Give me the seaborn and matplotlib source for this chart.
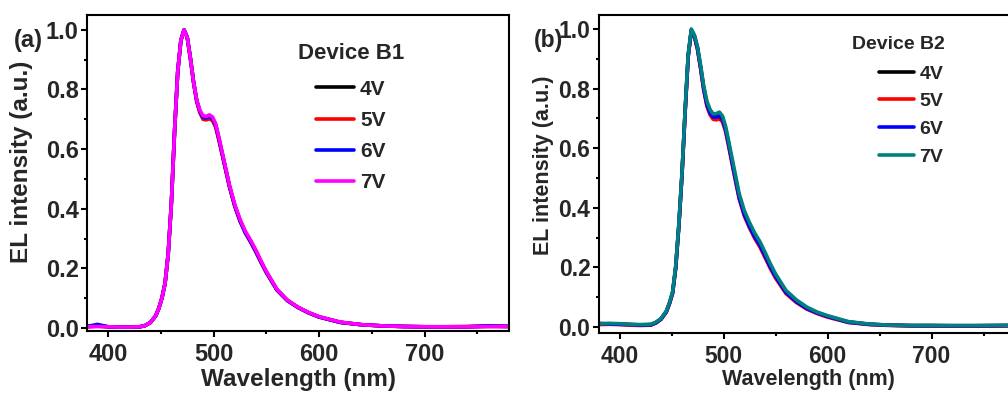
import numpy as np
import pandas as pd
import seaborn as sns
import matplotlib.pyplot as plt
from matplotlib.ticker import MultipleLocator

# wavelength grid (nm)
wavelength = [380, 390, 400, 410, 420, 430, 435, 440, 445, 448, 451, 454, 457, 460,
              463, 466, 469, 472, 475, 478, 481, 484, 487, 490, 493, 496, 499, 502,
              505, 510, 515, 520, 525, 530, 535, 540, 545, 550, 560, 570, 580, 590,
              600, 620, 640, 660, 680, 700, 720, 740, 760, 780]

voltages = ["4V", "5V", "6V", "7V"]

# Device B1 normalized EL spectra
b1_4v = [0.005, 0.008, 0.004, 0.003, 0.003, 0.004, 0.008, 0.018, 0.040, 0.065, 0.100, 0.150, 0.250, 0.420,
         0.660, 0.860, 0.965, 1.000, 0.975, 0.905, 0.825, 0.762, 0.725, 0.705, 0.703, 0.707, 0.700, 0.678,
         0.634, 0.555, 0.476, 0.411, 0.361, 0.321, 0.290, 0.257, 0.221, 0.187, 0.128, 0.092, 0.069, 0.051,
         0.037, 0.019, 0.011, 0.007, 0.005, 0.004, 0.004, 0.004, 0.006, 0.005]
b1_5v = [0.004, 0.006, 0.004, 0.003, 0.003, 0.004, 0.008, 0.018, 0.040, 0.065, 0.100, 0.150, 0.250, 0.420,
         0.660, 0.860, 0.965, 1.000, 0.975, 0.905, 0.824, 0.760, 0.722, 0.700, 0.698, 0.702, 0.695, 0.673,
         0.630, 0.552, 0.474, 0.409, 0.359, 0.320, 0.289, 0.256, 0.220, 0.186, 0.128, 0.092, 0.069, 0.051,
         0.037, 0.019, 0.011, 0.007, 0.005, 0.004, 0.004, 0.005, 0.005, 0.006]
b1_6v = [0.005, 0.012, 0.004, 0.003, 0.003, 0.004, 0.008, 0.018, 0.040, 0.065, 0.100, 0.150, 0.250, 0.420,
         0.660, 0.860, 0.965, 1.000, 0.975, 0.905, 0.825, 0.763, 0.727, 0.706, 0.705, 0.709, 0.702, 0.680,
         0.636, 0.556, 0.476, 0.411, 0.360, 0.320, 0.290, 0.257, 0.221, 0.187, 0.128, 0.092, 0.069, 0.051,
         0.037, 0.019, 0.011, 0.007, 0.005, 0.004, 0.004, 0.004, 0.007, 0.005]
b1_7v = [0.004, 0.005, 0.004, 0.003, 0.003, 0.004, 0.008, 0.018, 0.040, 0.065, 0.100, 0.150, 0.250, 0.420,
         0.660, 0.860, 0.965, 1.000, 0.975, 0.905, 0.825, 0.765, 0.730, 0.712, 0.710, 0.715, 0.708, 0.685,
         0.640, 0.560, 0.480, 0.415, 0.365, 0.325, 0.295, 0.262, 0.225, 0.190, 0.130, 0.093, 0.070, 0.052,
         0.038, 0.020, 0.011, 0.007, 0.005, 0.004, 0.004, 0.004, 0.005, 0.005]

# Device B2 normalized EL spectra
b2_4v = [0.010, 0.011, 0.010, 0.008, 0.007, 0.008, 0.015, 0.028, 0.052, 0.080, 0.115, 0.200, 0.340, 0.510,
         0.720, 0.910, 0.995, 0.975, 0.935, 0.870, 0.800, 0.750, 0.722, 0.708, 0.708, 0.712, 0.700, 0.665,
         0.614, 0.525, 0.438, 0.380, 0.340, 0.305, 0.278, 0.242, 0.205, 0.172, 0.118, 0.087, 0.064, 0.048,
         0.036, 0.017, 0.009, 0.006, 0.005, 0.005, 0.004, 0.004, 0.005, 0.005]
b2_5v = [0.008, 0.009, 0.008, 0.006, 0.005, 0.006, 0.013, 0.026, 0.050, 0.078, 0.113, 0.198, 0.338, 0.508,
         0.718, 0.908, 0.995, 0.973, 0.930, 0.865, 0.793, 0.740, 0.712, 0.697, 0.695, 0.699, 0.688, 0.655,
         0.604, 0.515, 0.430, 0.372, 0.332, 0.297, 0.268, 0.232, 0.196, 0.164, 0.112, 0.082, 0.060, 0.045,
         0.033, 0.015, 0.008, 0.005, 0.004, 0.003, 0.003, 0.003, 0.003, 0.004]
b2_6v = [0.012, 0.010, 0.009, 0.008, 0.006, 0.007, 0.014, 0.027, 0.051, 0.079, 0.114, 0.199, 0.339, 0.509,
         0.719, 0.909, 0.995, 0.975, 0.934, 0.869, 0.798, 0.746, 0.718, 0.704, 0.704, 0.708, 0.696, 0.662,
         0.610, 0.521, 0.435, 0.377, 0.337, 0.302, 0.274, 0.238, 0.201, 0.169, 0.116, 0.085, 0.062, 0.047,
         0.035, 0.016, 0.009, 0.006, 0.004, 0.004, 0.004, 0.004, 0.004, 0.005]
b2_7v = [0.011, 0.012, 0.011, 0.009, 0.008, 0.009, 0.016, 0.029, 0.054, 0.082, 0.118, 0.205, 0.345, 0.515,
         0.725, 0.915, 1.000, 0.980, 0.940, 0.877, 0.808, 0.758, 0.730, 0.715, 0.716, 0.721, 0.708, 0.673,
         0.622, 0.535, 0.448, 0.390, 0.350, 0.315, 0.286, 0.250, 0.212, 0.178, 0.123, 0.091, 0.067, 0.050,
         0.038, 0.018, 0.010, 0.006, 0.005, 0.005, 0.005, 0.005, 0.005, 0.006]

b1_colors = ["#000000", "#ff0000", "#0000ff", "#ff00ff"]
b2_colors = ["#000000", "#ff0000", "#0000ff", "#008080"]


def to_long(series_list):
    frames = []
    for v, vals in zip(voltages, series_list):
        frames.append(pd.DataFrame({"wavelength": wavelength, "intensity": vals, "voltage": v}))
    return pd.concat(frames, ignore_index=True)


df_b1 = to_long([b1_4v, b1_5v, b1_6v, b1_7v])
df_b2 = to_long([b2_4v, b2_5v, b2_6v, b2_7v])

sns.set_theme(style="ticks")
plt.rcParams["font.family"] = ["Liberation Sans", "DejaVu Sans"]
plt.rcParams["font.weight"] = "bold"
plt.rcParams["axes.labelweight"] = "bold"

fig = plt.figure(figsize=(10.08, 3.94), dpi=100)
ax1 = fig.add_axes([0.0863, 0.160, 0.4187, 0.802])
ax2 = fig.add_axes([0.594, 0.155, 0.4127, 0.807])


def style_axis(ax, ylim, label_size, tick_size, ylab_xy, xlab_xy):
    ax.set_xlim(380, 780)
    ax.set_ylim(*ylim)
    ax.xaxis.set_major_locator(MultipleLocator(100))
    ax.xaxis.set_minor_locator(MultipleLocator(50))
    ax.yaxis.set_major_locator(MultipleLocator(0.2))
    ax.yaxis.set_minor_locator(MultipleLocator(0.1))
    ax.tick_params(which="major", direction="out", length=4, width=1.5,
                   labelsize=tick_size, pad=2, color="black")
    ax.tick_params(axis="x", which="major", pad=4.5)
    ax.tick_params(which="minor", direction="out", length=2.5, width=1.5, color="black")
    ax.tick_params(top=False, right=False)
    for lab in ax.get_xticklabels() + ax.get_yticklabels():
        lab.set_fontweight("bold")
    for sp in ax.spines.values():
        sp.set_linewidth(1.5)
        sp.set_color("black")
        sp.set_visible(True)
    ax.set_xlabel("Wavelength (nm)", fontsize=label_size, fontweight="bold")
    ax.set_ylabel("EL intensity (a.u.)", fontsize=label_size, fontweight="bold")
    ax.yaxis.set_label_coords(*ylab_xy)
    ax.xaxis.set_label_coords(*xlab_xy)
    ax.yaxis.set_major_formatter(plt.FuncFormatter(lambda v, p: f"{v:.1f}"))


sns.lineplot(data=df_b1, x="wavelength", y="intensity", hue="voltage",
             palette=b1_colors, lw=2.6, sort=False, estimator=None, ax=ax1)
sns.lineplot(data=df_b2, x="wavelength", y="intensity", hue="voltage",
             palette=b2_colors, lw=2.6, sort=False, estimator=None, ax=ax2)

style_axis(ax1, (-0.01, 1.05), 17.5, 17, (-0.128, 0.535), (0.5, -0.117))
style_axis(ax2, (-0.02, 1.047), 15.5, 16.5, (-0.108, 0.528), (0.505, -0.112))

# legend of panel (a): title drawn as text, entries as legend
ax1.text(0.5, 0.877, "Device B1", transform=ax1.transAxes, fontsize=16,
         fontweight="bold", ha="left", va="center")
h1, l1 = ax1.get_legend_handles_labels()
leg1 = ax1.legend(h1, l1, loc="upper left", bbox_to_anchor=(0.543, 0.795),
                  frameon=False, fontsize=15, handlelength=1.8,
                  handletextpad=0.3, labelspacing=0.58, borderpad=0, borderaxespad=0)
for t in leg1.get_texts():
    t.set_fontweight("bold")

# legend of panel (b)
ax2.text(0.608, 0.906, "Device B2", transform=ax2.transAxes, fontsize=14,
         fontweight="bold", ha="left", va="center")
h2, l2 = ax2.get_legend_handles_labels()
leg2 = ax2.legend(h2, l2, loc="upper left", bbox_to_anchor=(0.673, 0.843),
                  frameon=False, fontsize=14, handlelength=1.8,
                  handletextpad=0.3, labelspacing=0.52, borderpad=0, borderaxespad=0)
for t in leg2.get_texts():
    t.set_fontweight("bold")

fig.text(14 / 1008, 1 - 40 / 394, "(a)", fontsize=17, fontweight="bold", va="center", ha="left")
fig.text(534 / 1008, 1 - 41 / 394, "(b)", fontsize=16.5, fontweight="bold", va="center", ha="left")

fig.savefig("out.png", dpi=100)
